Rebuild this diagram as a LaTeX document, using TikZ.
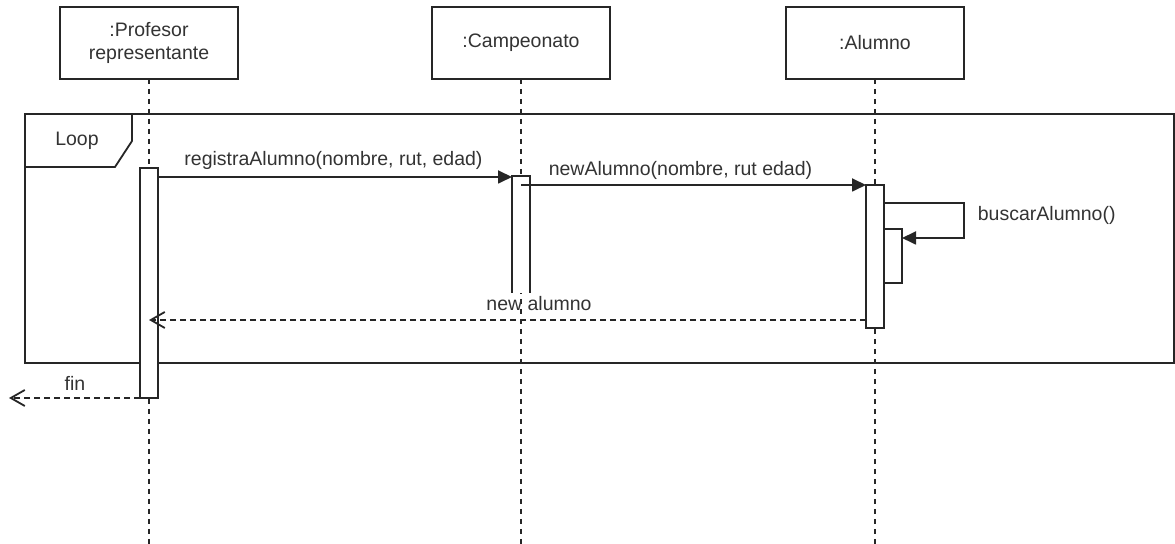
\documentclass[tikz,border=0pt]{standalone}
\usepackage{fontspec}
\setmainfont{Liberation Sans}
\usetikzlibrary{arrows.meta}
\begin{document}
\begin{tikzpicture}[x=0.5pt,y=-0.5pt,
  line width=0.9pt,
  every node/.style={font=\fontsize{9.75}{11.5}\selectfont, text=black!80},
  actor/.style={draw=black!85, fill=white, inner sep=0pt, outer sep=0pt,
    minimum width=89pt, minimum height=36pt, align=center},
  activation/.style={draw=black!85, fill=white, inner sep=0pt, outer sep=0pt,
    minimum width=9pt},
  lifeline/.style={draw=black!85, dash pattern=on 2.5pt off 2.5pt},
  callmsg/.style={draw=black!85, -{Triangle[length=7pt,width=6.5pt]}},
  replymsg/.style={draw=black!85, dash pattern=on 3pt off 2pt,
    -{Straight Barb[length=7pt,width=8pt,line width=0.9pt]}},
  msglabel/.style={inner sep=1pt}
]
\useasboundingbox (0,0) rectangle (1175,544);

% participants
\node[actor] (prof) at (149,43) {:Profesor\\representante};
\node[actor] (camp) at (521,43) {:Campeonato};
\node[actor] (alum) at (875,43) {:Alumno};

% lifeline ends
\coordinate (profEnd) at (149,544);
\coordinate (campEnd) at (521,544);
\coordinate (alumEnd) at (875,544);
\draw[lifeline] (prof.south) -- (profEnd);
\draw[lifeline] (camp.south) -- (campEnd);
\draw[lifeline] (alum.south) -- (alumEnd);

% loop fragment
\coordinate (frameNW) at (25,114);
\coordinate (frameSE) at (1174,363);
\draw[black!85] (frameNW) rectangle (frameSE);
\draw[black!85] (25,167) -- (115,167) -- (132,141) -- (132,114);
\node (loop) at (77,141) {Loop};

% activations
\node[activation, minimum height=115pt] (profAct) at (149,283) {};
\coordinate (campActTL) at (512,176);
\coordinate (campActTR) at (530,176);
\coordinate (campActBL) at (512,293);
\coordinate (campActBR) at (530,293);
\fill[white] (campActTL) rectangle (campActBR);
\draw[black!85] (campActBL) -- (campActTL) -- (campActTR) -- (campActBR);
\node[activation, minimum height=71.5pt] (alumAct) at (875,256.5) {};
\node[activation, minimum height=27pt] (alumAct2) at (893,256) {};

% messages
\coordinate (m1s) at (158,177);
\draw[callmsg] (m1s) -- (campActTL |- m1s);
\node[msglabel] (m1) at (333.5,160) {registraAlumno(nombre, rut, edad)};

\coordinate (m2s) at (521,185);
\draw[callmsg] (m2s) -- (alumAct.west |- m2s);
\node[msglabel] (m2) at (680.5,170) {newAlumno(nombre, rut edad)};

\coordinate (m3s) at (884,203);
\coordinate (m3c1) at (964,203);
\coordinate (m3c2) at (964,238);
\coordinate (m3e) at (902,238);
\draw[callmsg] (m3s) -- (m3c1) -- (m3c2) -- (m3e);
\node[msglabel, anchor=west] (m3) at (975,215) {buscarAlumno()};

\coordinate (r1s) at (866,320);
\coordinate (r1e) at (149,320);
\draw[replymsg] (r1s) -- (r1e);
\node[msglabel] (r1) at (539,304) {new alumno};

\coordinate (r2s) at (140,398);
\coordinate (r2e) at (9,398);
\draw[replymsg] (r2s) -- (r2e);
\node[msglabel] (r2) at (75,383) {fin};
\end{tikzpicture}
\end{document}
